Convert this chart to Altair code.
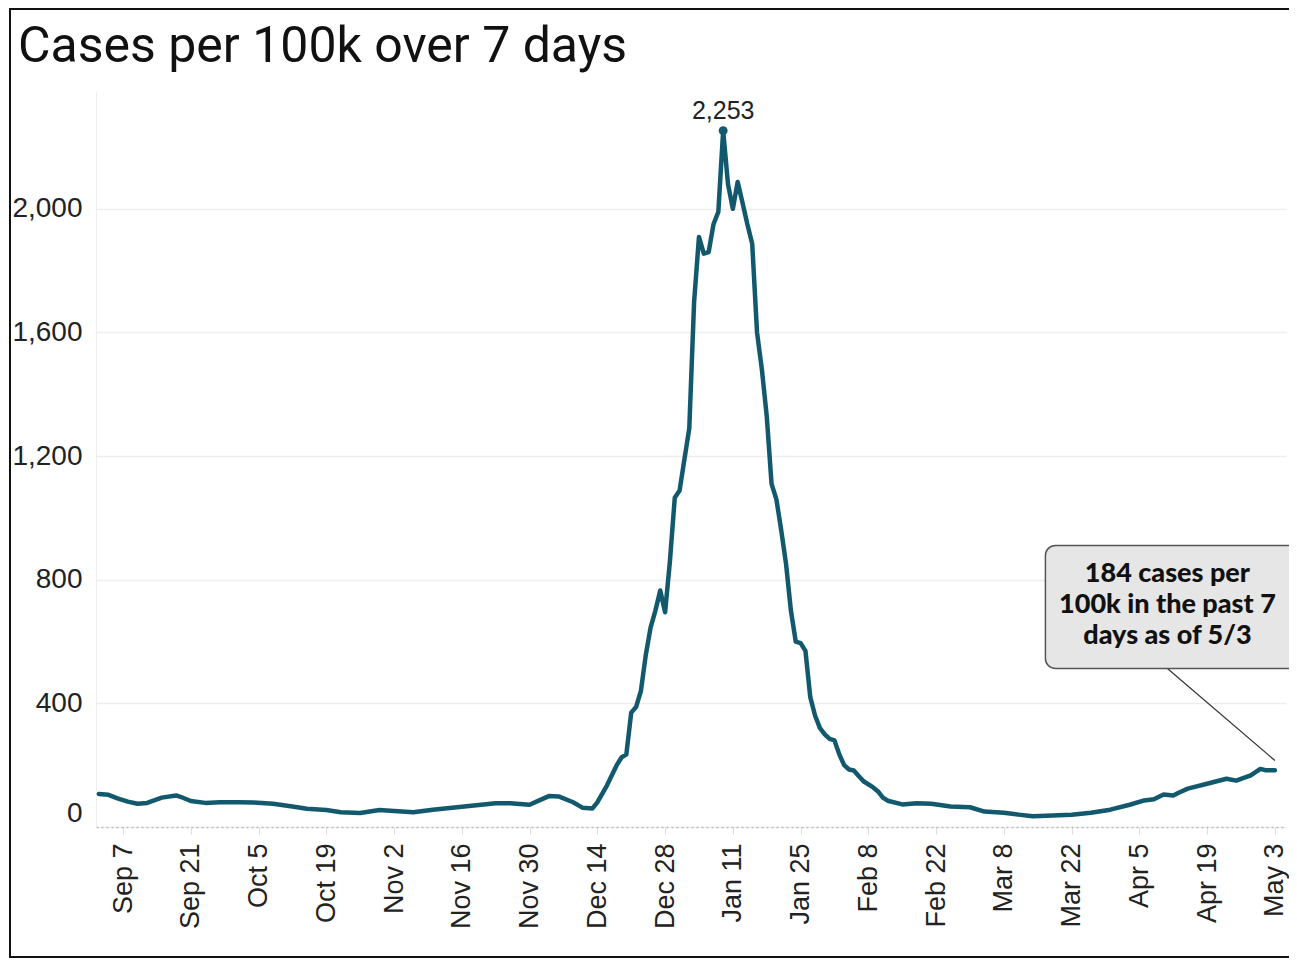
import altair as alt
import pandas as pd

# ---- data ----
dates = [
    "2021-09-02", "2021-09-04", "2021-09-06", "2021-09-08", "2021-09-10", "2021-09-12",
    "2021-09-15", "2021-09-18", "2021-09-19", "2021-09-21", "2021-09-24", "2021-09-27",
    "2021-10-01", "2021-10-04", "2021-10-08", "2021-10-12", "2021-10-15", "2021-10-19",
    "2021-10-22", "2021-10-26", "2021-10-30", "2021-11-02", "2021-11-06", "2021-11-10",
    "2021-11-15", "2021-11-19", "2021-11-23", "2021-11-26", "2021-11-30", "2021-12-02",
    "2021-12-04", "2021-12-06", "2021-12-09", "2021-12-11", "2021-12-13", "2021-12-14",
    "2021-12-16", "2021-12-18", "2021-12-19", "2021-12-20", "2021-12-21", "2021-12-22",
    "2021-12-23", "2021-12-24", "2021-12-25", "2021-12-26", "2021-12-27", "2021-12-28",
    "2021-12-29", "2021-12-30", "2021-12-31", "2022-01-01", "2022-01-02", "2022-01-03",
    "2022-01-04", "2022-01-05", "2022-01-06", "2022-01-07", "2022-01-08", "2022-01-09",
    "2022-01-10", "2022-01-11", "2022-01-12", "2022-01-13", "2022-01-14", "2022-01-15",
    "2022-01-16", "2022-01-17", "2022-01-18", "2022-01-19", "2022-01-20", "2022-01-21",
    "2022-01-22", "2022-01-23", "2022-01-24", "2022-01-25", "2022-01-26", "2022-01-27",
    "2022-01-28", "2022-01-29", "2022-01-30", "2022-01-31", "2022-02-01", "2022-02-02",
    "2022-02-03", "2022-02-04", "2022-02-05", "2022-02-06", "2022-02-07", "2022-02-09",
    "2022-02-10", "2022-02-11", "2022-02-12", "2022-02-15", "2022-02-18", "2022-02-21",
    "2022-02-25", "2022-03-01", "2022-03-04", "2022-03-08", "2022-03-11", "2022-03-14",
    "2022-03-18", "2022-03-22", "2022-03-26", "2022-03-30", "2022-04-03", "2022-04-06",
    "2022-04-08", "2022-04-10", "2022-04-12", "2022-04-13", "2022-04-15", "2022-04-19",
    "2022-04-23", "2022-04-25", "2022-04-28", "2022-04-30", "2022-05-01", "2022-05-03",
]
cases = [
    107, 104, 92, 82, 75, 78,
    95, 102, 97, 84, 78, 80,
    80, 79, 75, 66, 59, 55,
    48, 45, 55, 52, 48, 56,
    64, 70, 77, 77, 72, 86,
    100, 99, 80, 62, 60, 80,
    135, 200, 225, 235, 370, 388,
    440, 555, 645, 700, 765, 695,
    860, 1065, 1089, 1190, 1290, 1700,
    1909, 1855, 1860, 1950, 1990, 2253,
    2080, 2000, 2087, 2020, 1950, 1887,
    1600, 1480, 1330, 1110, 1060, 960,
    850, 700, 600, 595, 570, 420,
    360, 320, 300, 285, 280, 235,
    200, 186, 183, 165, 148, 128,
    115, 95, 85, 73, 77, 75,
    66, 64, 50, 46, 40, 35,
    37, 40, 46, 56, 72, 86,
    90, 105, 102, 110, 124, 140,
    156, 150, 167, 188, 184, 184,
]

y_ticks = [0, 400, 800, 1200, 1600, 2000]
x_tick_dates = [
    (2021, 9, 7), (2021, 9, 21), (2021, 10, 5), (2021, 10, 19), (2021, 11, 2),
    (2021, 11, 16), (2021, 11, 30), (2021, 12, 14), (2021, 12, 28), (2022, 1, 11),
    (2022, 1, 25), (2022, 2, 8), (2022, 2, 22), (2022, 3, 8), (2022, 3, 22),
    (2022, 4, 5), (2022, 4, 19), (2022, 5, 3),
]

title_text = "Cases per 100k over 7 days"
note_text = "184 cases per\n100k in the past 7\ndays as of 5/3"

# annotation placement (in data units)
note_box = {"x": "2022-03-16T14:00:00Z", "x2": "2022-05-08T00:00:00Z", "y": 513, "y2": 911}
note_label = {"x": "2022-04-10T19:00:00Z", "y": 820}
note_leader = {"x": "2022-04-10T19:00:00Z", "x2": "2022-05-03T00:00:00Z", "y": 513, "y2": 215}

LINE = "#12596d"

df = pd.DataFrame({"date": dates, "cases": cases})
box_df = pd.DataFrame([note_box])
label_df = pd.DataFrame([dict(note_label, text=note_text)])
leader_df = pd.DataFrame([note_leader])
title_df = pd.DataFrame({"text": [title_text]})

x_scale = alt.Scale(
    type="utc",
    domain=[
        alt.DateTime(year=2021, month=9, date=1, hours=10, minutes=4, utc=True),
        alt.DateTime(year=2022, month=5, date=5, hours=6, minutes=58, utc=True),
    ],
)
y_scale = alt.Scale(domain=[0, 2378], nice=False, zero=True)

x_axis = alt.Axis(
    title=None,
    values=[alt.DateTime(year=a, month=b, date=c, utc=True) for a, b, c in x_tick_dates],
    format="%b %-d",
    labelAngle=270,
    labelAlign="right",
    labelBaseline="middle",
    labelFont="Liberation Sans",
    labelFontSize=27,
    labelColor="#222",
    labelPadding=9,
    labelFlush=False,
    labelOverlap=False,
    grid=False,
    ticks=True,
    tickColor="#dddddd",
    tickSize=7,
    domain=True,
    domainColor="#bbbbbb",
    domainDash=[2, 3],
    domainWidth=1.5,
)
y_axis = alt.Axis(
    title=None,
    values=y_ticks,
    format=",.0f",
    labelFont="Liberation Sans",
    labelFontSize=28,
    labelColor="#222",
    labelPadding=14,
    labelFlush=True,
    ticks=False,
    domain=True,
    domainColor="#eeeeee",
    grid=True,
    gridColor="#eeeeee",
    gridWidth=1.5,
)

base = alt.Chart(df)

line = base.mark_line(color=LINE, strokeWidth=4.5, strokeJoin="round", strokeCap="round").encode(
    x=alt.X("date:T", scale=x_scale, axis=x_axis),
    y=alt.Y("cases:Q", scale=y_scale, axis=y_axis),
)

peak = base.transform_joinaggregate(maxv="max(cases)").transform_filter("datum.cases == datum.maxv")
peak_dot = peak.mark_point(filled=True, color=LINE, size=80, opacity=1).encode(
    x="date:T", y="cases:Q"
)
peak_text = peak.mark_text(dy=-20, font="Liberation Sans", fontSize=25, color="#222").encode(
    x="date:T", y="cases:Q", text=alt.Text("cases:Q", format=",")
)

box = alt.Chart(box_df).mark_rect(
    fill="#e6e6e6", stroke="#555555", strokeWidth=1.5, cornerRadius=10
).encode(x="x:T", x2="x2:T", y="y:Q", y2="y2:Q")

leader = alt.Chart(leader_df).mark_rule(color="#333333", strokeWidth=1.2).encode(
    x="x:T", x2="x2:T", y="y:Q", y2="y2:Q"
)

label = alt.Chart(label_df).mark_text(
    font="Lato", fontWeight=900, fontSize=27, color="#111", lineBreak="\n",
    lineHeight=31, align="center", baseline="middle",
).encode(x="x:T", y="y:Q", text="text:N")

title = alt.Chart(title_df).mark_text(
    font="Roboto", fontSize=50, color="#111", align="left", baseline="alphabetic"
).encode(x=alt.value(-78), y=alt.value(-30), text="text:N")

frame = alt.Chart(pd.DataFrame({"k": [0]})).mark_rect(
    fill=None, stroke="#111111", strokeWidth=2
).encode(x=alt.value(-86), x2=alt.value(1300), y=alt.value(-83), y2=alt.value(865))

chart = (
    alt.layer(line, peak_dot, peak_text, leader, box, label, title, frame)
    .properties(
        width=1190,
        height=735,
        autosize=alt.AutoSizeParams(type="none"),
        padding={"left": 88, "top": 84, "right": 3, "bottom": 131},
    )
    .configure_view(stroke=None)
)

chart.save("out.html", embed_options={"renderer": "svg", "actions": False})
